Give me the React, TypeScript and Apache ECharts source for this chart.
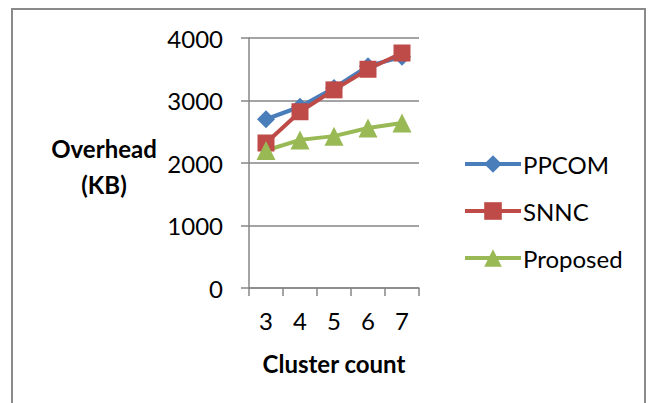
import React, { useEffect, useRef } from "react";
import * as echarts from "echarts";

const categories = ["3", "4", "5", "6", "7"];
const ppcom = [2700, 2900, 3200, 3550, 3700];
const snnc = [2320, 2820, 3170, 3500, 3760];
const proposed = [2200, 2370, 2430, 2560, 2640];
const yTicks = { min: 0, max: 4000, interval: 1000 };

const FONT = "Lato";
const GRAY = "#868686";
const FS = 24;

export default function App() {
  const ref = useRef<HTMLDivElement>(null);
  useEffect(() => {
    if (!ref.current) return;
    const chart = echarts.init(ref.current, null, { renderer: "svg" });
    const mk = (name: string, data: number[], color: string, symbol: string, size: number) => ({
      name,
      type: "line",
      data,
      symbol,
      symbolSize: size,
      lineStyle: { color, width: 4 },
      itemStyle: { color },
      emphasis: { disabled: true },
    });
    chart.setOption({
      animation: false,
      backgroundColor: "#ffffff",
      textStyle: { fontFamily: FONT },
      grid: { left: 249, right: 230, top: 38, bottom: 115 },
      xAxis: {
        type: "category",
        data: categories,
        boundaryGap: true,
        axisLine: { lineStyle: { color: GRAY, width: 1.5 } },
        axisTick: { show: true, length: 8, alignWithLabel: false, lineStyle: { color: GRAY, width: 1.5 } },
        axisLabel: { color: "#000", fontSize: FS, fontFamily: FONT, margin: 20 },
      },
      yAxis: {
        type: "value",
        min: yTicks.min,
        max: yTicks.max,
        interval: yTicks.interval,
        axisLine: { show: true, lineStyle: { color: GRAY, width: 1.5 } },
        axisTick: { show: true, length: 8, lineStyle: { color: GRAY, width: 1.5 } },
        axisLabel: { color: "#000", fontSize: FS, fontFamily: FONT, margin: 26, formatter: (v: number) => String(v) },
        splitLine: { show: true, lineStyle: { color: GRAY, width: 1.5 } },
      },
      legend: {
        orient: "vertical",
        left: 458,
        top: 147,
        itemWidth: 56,
        itemHeight: 22,
        itemGap: 23,
        lineStyle: { width: 4 },
        textStyle: { color: "#000", fontSize: FS, lineHeight: 24, fontFamily: FONT, padding: [0, 0, 0, -3] },
        data: ["PPCOM", "SNNC", "Proposed"],
      },
      graphic: [
        {
          type: "rect",
          shape: { x: 12, y: 9, width: 633, height: 410 },
          style: { fill: "none", stroke: "#8a8a8a", lineWidth: 2 },
          silent: true,
        },
        {
          type: "text",
          x: 104,
          y: 148,
          style: { text: "Overhead", font: `bold ${FS}px ${FONT}`, fill: "#000", textAlign: "center", textVerticalAlign: "middle" },
        },
        {
          type: "text",
          x: 104,
          y: 184,
          style: { text: "(KB)", font: `bold ${FS}px ${FONT}`, fill: "#000", textAlign: "center", textVerticalAlign: "middle" },
        },
        {
          type: "text",
          x: 334,
          y: 363,
          style: { text: "Cluster count", font: `bold ${FS}px ${FONT}`, fill: "#000", textAlign: "center", textVerticalAlign: "middle" },
        },
      ],
      series: [
        mk("PPCOM", ppcom, "#4A7EBB", "diamond", 18),
        mk("SNNC", snnc, "#BE4B48", "rect", 17),
        mk("Proposed", proposed, "#98B954", "triangle", 19),
      ],
    });
    return () => chart.dispose();
  }, []);
  return <div ref={ref} style={{ position: "fixed", left: 0, top: 0, width: 649, height: 403 }} />;
}
